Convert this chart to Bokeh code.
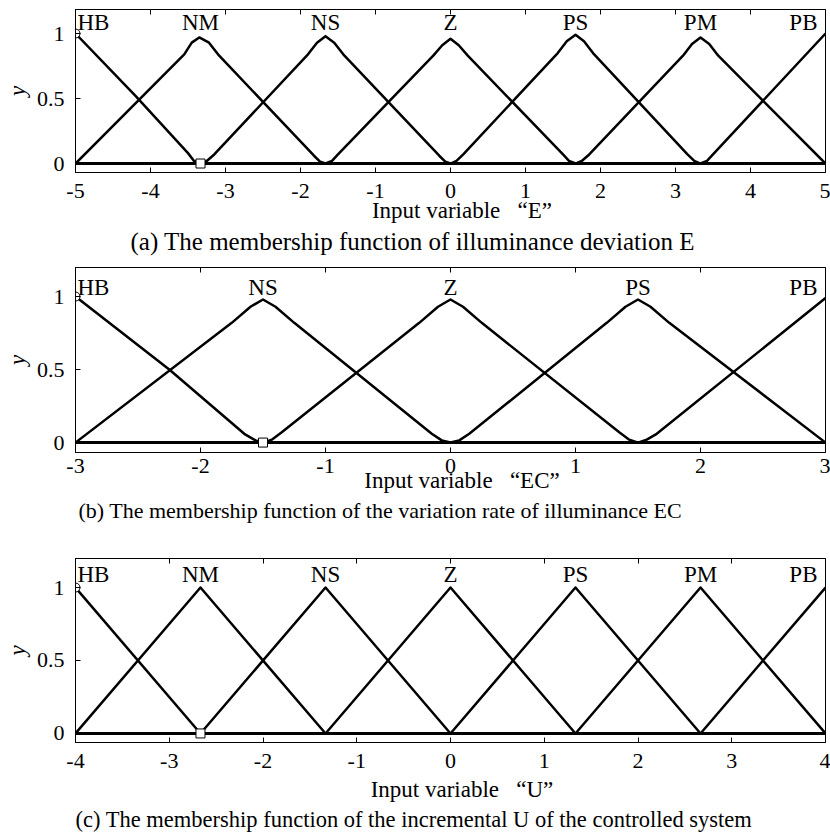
from bokeh.plotting import figure
from bokeh.models import LinearAxis, FixedTicker, Range1d, ColumnDataSource, Title
from bokeh.layouts import column
from bokeh.core.properties import value
from bokeh.embed import file_html
from bokeh.resources import INLINE

FONT = "Liberation Serif"

# ---------------- Panel (a): illuminance deviation E ----------------
a_xticks = [-5, -4, -3, -2, -1, 0, 1, 2, 3, 4, 5]
a_labels = ["HB", "NM", "NS", "Z", "PS", "PM", "PB"]
a_label_x = [-5.0, -3.333, -1.667, 0.0, 1.667, 3.333, 5.0]
a_HB_x = [-5.0, -4.2, -3.5, -3.42, -3.333]
a_HB_y = [1.0, 0.52, 0.08, 0.02, 0.0]
a_NM_x = [-5.0, -3.55, -3.45, -3.35, -3.22, -3.1, -1.82, -1.74, -1.667]
a_NM_y = [0.0, 0.84, 0.93, 0.97, 0.93, 0.84, 0.06, 0.015, 0.0]
a_NS_x = [-3.333, -3.25, -3.15, -1.9, -1.78, -1.667, -1.55, -1.43, -0.15, -0.07, 0.0]
a_NS_y = [0.0, 0.02, 0.07, 0.84, 0.93, 0.98, 0.93, 0.84, 0.06, 0.015, 0.0]
a_Z_x = [-1.667, -1.58, -1.5, -0.23, -0.11, 0.0, 0.11, 0.23, 1.5, 1.58, 1.667]
a_Z_y = [0.0, 0.02, 0.07, 0.83, 0.91, 0.96, 0.91, 0.83, 0.07, 0.02, 0.0]
a_PS_x = [0.0, 0.08, 0.17, 1.43, 1.55, 1.667, 1.78, 1.9, 3.16, 3.25, 3.333]
a_PS_y = [0.0, 0.02, 0.07, 0.85, 0.94, 0.99, 0.94, 0.85, 0.07, 0.02, 0.0]
a_PM_x = [1.667, 1.75, 1.85, 3.1, 3.22, 3.333, 3.45, 3.57, 5.0]
a_PM_y = [0.0, 0.02, 0.07, 0.83, 0.92, 0.97, 0.92, 0.83, 0.0]
a_PB_x = [3.333, 3.42, 3.5, 5.0]
a_PB_y = [0.0, 0.02, 0.07, 1.0]
a_circle = (-5.0, 1.0)
a_square = (-3.333, 0.0)

# ---------------- Panel (b): variation rate EC ----------------
b_xticks = [-3, -2, -1, 0, 1, 2, 3]
b_labels = ["HB", "NS", "Z", "PS", "PB"]
b_label_x = [-3.0, -1.5, 0.0, 1.5, 3.0]
b_HB_x = [-3.0, -2.25, -1.65, -1.56, -1.5]
b_HB_y = [1.0, 0.5, 0.06, 0.015, 0.0]
b_NS_x = [-3.0, -1.75, -1.6, -1.5, -1.4, -1.25, -0.15, -0.07, 0.0]
b_NS_y = [0.0, 0.82, 0.93, 0.98, 0.93, 0.82, 0.06, 0.015, 0.0]
b_Z_x = [-1.5, -1.43, -1.35, -0.25, -0.1, 0.0, 0.1, 0.25, 1.35, 1.43, 1.5]
b_Z_y = [0.0, 0.02, 0.07, 0.82, 0.93, 0.98, 0.93, 0.82, 0.07, 0.02, 0.0]
b_PS_x = [0.0, 0.07, 0.15, 1.25, 1.4, 1.5, 1.6, 1.75, 3.0]
b_PS_y = [0.0, 0.015, 0.06, 0.82, 0.93, 0.98, 0.93, 0.82, 0.0]
b_PB_x = [1.5, 1.57, 1.65, 3.0]
b_PB_y = [0.0, 0.02, 0.06, 0.99]
b_circle = (-3.0, 1.0)
b_square = (-1.5, 0.0)

# ---------------- Panel (c): incremental U ----------------
c_xticks = [-4, -3, -2, -1, 0, 1, 2, 3, 4]
c_labels = ["HB", "NM", "NS", "Z", "PS", "PM", "PB"]
c_label_x = [-4.0, -2.667, -1.333, 0.0, 1.333, 2.667, 4.0]
c_HB_x = [-4.0, -2.667]
c_HB_y = [1.0, 0.0]
c_NM_x = [-4.0, -2.667, -1.333]
c_NM_y = [0.0, 1.0, 0.0]
c_NS_x = [-2.667, -1.333, 0.0]
c_NS_y = [0.0, 1.0, 0.0]
c_Z_x = [-1.333, 0.0, 1.333]
c_Z_y = [0.0, 1.0, 0.0]
c_PS_x = [0.0, 1.333, 2.667]
c_PS_y = [0.0, 1.0, 0.0]
c_PM_x = [1.333, 2.667, 4.0]
c_PM_y = [0.0, 1.0, 0.0]
c_PB_x = [2.667, 4.0]
c_PB_y = [0.0, 1.0]
c_circle = (-4.0, 1.0)
c_square = (-2.667, 0.0)

LABEL_OFFSETS = {"HB": 2, "PB": -8}


def panel(xr, yr, xticks, curves, labels, label_x, label_y, circ, sq,
          xlabel, caption, cap_offset, cap_size, frame_h, top, bottom,
          tick_standoff, xl_standoff):
    p = figure(width=830, height=top + frame_h + bottom,
               x_range=Range1d(*xr), y_range=Range1d(*yr),
               output_backend="svg", toolbar_location=None,
               min_border_left=75, min_border_right=5,
               min_border_top=top, min_border_bottom=bottom)
    p.grid.visible = False
    p.outline_line_color = "black"
    p.outline_line_width = 1
    p.background_fill_color = "white"

    xa = p.xaxis[0]
    xa.ticker = FixedTicker(ticks=xticks)
    xa.major_label_overrides = {t: str(t) for t in xticks}
    xa.major_tick_in = 5
    xa.major_tick_out = 0
    xa.minor_tick_line_color = None
    xa.major_label_standoff = tick_standoff
    xa.major_label_text_font = FONT
    xa.major_label_text_font_size = "22px"
    xa.major_label_text_color = "black"
    xa.axis_line_color = "black"
    xa.major_tick_line_color = "black"
    xa.axis_label = xlabel
    xa.axis_label_text_font = FONT
    xa.axis_label_text_font_size = "23px"
    xa.axis_label_text_font_style = "normal"
    xa.axis_label_text_color = "black"
    xa.axis_label_standoff = xl_standoff

    ya = p.yaxis[0]
    ya.ticker = FixedTicker(ticks=[0, 0.5, 1])
    ya.major_label_overrides = {0: "0", 0.5: "0.5", 1: "1"}
    ya.major_tick_in = 5
    ya.major_tick_out = 0
    ya.minor_tick_line_color = None
    ya.major_label_standoff = 11
    ya.major_label_text_font = FONT
    ya.major_label_text_font_size = "22px"
    ya.major_label_text_color = "black"
    ya.axis_line_color = "black"
    ya.major_tick_line_color = "black"
    ya.axis_label = "y"
    ya.axis_label_text_font = FONT
    ya.axis_label_text_font_size = "23px"
    ya.axis_label_text_font_style = "italic"
    ya.axis_label_text_color = "black"
    ya.axis_label_standoff = 4

    top_ax = LinearAxis(ticker=FixedTicker(ticks=xticks), major_label_text_font_size="0px",
                        major_label_text_color=None, major_label_text_alpha=0,
                        major_tick_in=5, major_tick_out=0, minor_tick_line_color=None,
                        axis_line_color="black", major_tick_line_color="black",
                        major_label_standoff=0)
    p.add_layout(top_ax, "above")

    # zero baseline (all functions are zero outside their support)
    p.line(x=[xr[0], xr[1]], y=[0, 0], line_color="black", line_width=3)
    for cx, cy in curves:
        p.line(x=cx, y=cy, line_color="black", line_width=2.5, line_join="round")

    aligns = ["left"] + ["center"] * (len(labels) - 2) + ["right"]
    offs = [LABEL_OFFSETS.get(l, 0) for l in labels]
    src = ColumnDataSource(dict(x=label_x, y=[label_y] * len(labels), t=labels,
                                a=aligns, o=offs))
    p.text(x="x", y="y", text="t", text_align="a", x_offset="o", source=src,
           text_font=value(FONT), text_font_size="23px", text_baseline="middle",
           text_color="black")

    p.scatter(x=[circ[0]], y=[circ[1]], marker="circle", size=9,
              fill_color="white", line_color="black", line_width=1)
    p.scatter(x=[sq[0]], y=[sq[1]], marker="square", size=9,
              fill_color="white", line_color="black", line_width=1)

    p.add_layout(Title(text=caption, align="left", offset=cap_offset, text_font=FONT,
                       text_font_size=cap_size, text_font_style="normal",
                       text_color="black", standoff=0), "below")
    return p


pa = panel((-5, 5), (-0.069, 1.185), a_xticks,
           [(a_HB_x, a_HB_y), (a_NM_x, a_NM_y), (a_NS_x, a_NS_y), (a_Z_x, a_Z_y),
            (a_PS_x, a_PS_y), (a_PM_x, a_PM_y), (a_PB_x, a_PB_y)],
           a_labels, a_label_x, 1.085, a_circle, a_square,
           "\u00a0\u00a0\u00a0\u00a0Input variable \u2002\u201cE\u201d",
           "(a) The membership function of illuminance deviation E", 55, "25px",
           163, 9, 87, 11, -3)

pb = panel((-3, 3), (-0.068, 1.199), b_xticks,
           [(b_HB_x, b_HB_y), (b_NS_x, b_NS_y), (b_Z_x, b_Z_y),
            (b_PS_x, b_PS_y), (b_PB_x, b_PB_y)],
           b_labels, b_label_x, 1.062, b_circle, b_square,
           "\u00a0\u00a0\u00a0\u00a0Input variable \u2002\u201cEC\u201d",
           "(b) The membership function of the variation rate of illuminance EC", 3, "22px",
           185, 8, 97, 6, -8)

pc = panel((-4, 4), (-0.062, 1.199), c_xticks,
           [(c_HB_x, c_HB_y), (c_NM_x, c_NM_y), (c_NS_x, c_NS_y), (c_Z_x, c_Z_y),
            (c_PS_x, c_PS_y), (c_PM_x, c_PM_y), (c_PB_x, c_PB_y)],
           c_labels, c_label_x, 1.089, c_circle, c_square,
           "\u00a0\u00a0\u00a0\u00a0Input variable \u2002\u201cU\u201d",
           "(c) The membership function of the incremental U of the controlled system", 0, "22.5px",
           184, 9, 93, 11, 6)

layout = column(pa, pb, pc, spacing=0)
open("out.html", "w").write(file_html(layout, INLINE))
